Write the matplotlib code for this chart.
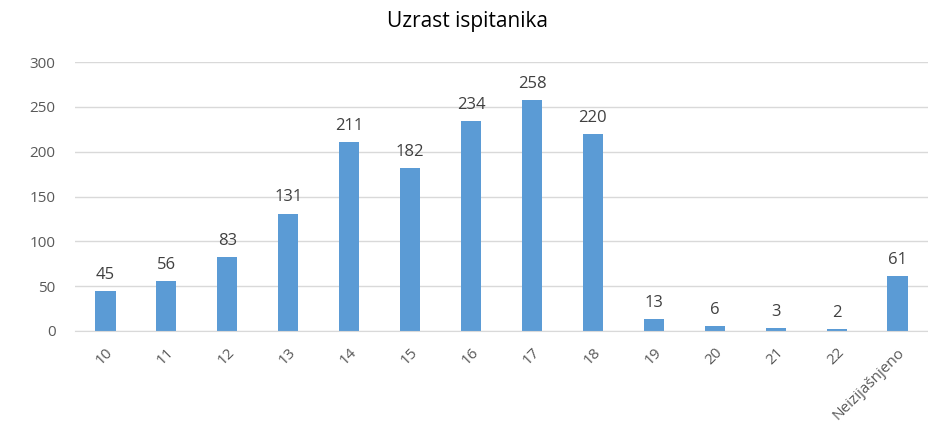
import numpy as np
import matplotlib.pyplot as plt

plt.rcParams['font.family'] = ['Open Sans', 'DejaVu Sans']

ages = ['10', '11', '12', '13', '14', '15', '16', '17', '18', '19', '20', '21', '22', 'Neizijašnjeno']
counts = [45, 56, 83, 131, 211, 182, 234, 258, 220, 13, 6, 3, 2, 61]
yticks = [0, 50, 100, 150, 200, 250, 300]

fig = plt.figure(figsize=(9.29, 4.24), dpi=100)
ax = fig.add_axes([75 / 929, 1 - 331 / 424, 853 / 929, 269 / 424])

x = np.arange(len(ages))
bars = ax.bar(x, counts, width=0.33, color='#5B9BD5', zorder=3)
for xi, v in zip(x, counts):
    ax.text(xi, v + 9, str(v), ha='center', va='bottom', fontsize=12, color='#404040')

ax.set_xlim(-0.5, len(ages) - 0.5)
ax.set_ylim(0, 300)
ax.set_yticks(yticks)
ax.set_xticks(x)
ax.set_xticklabels(ages, rotation=45, ha='right', rotation_mode='anchor')
ax.tick_params(axis='both', length=0, labelsize=11, colors='#595959')
ax.tick_params(axis='x', pad=10)
ax.tick_params(axis='y', pad=14)
ax.grid(axis='y', color='#D9D9D9', linewidth=1, zorder=0)
for s in ['top', 'right', 'left']:
    ax.spines[s].set_visible(False)
ax.spines['bottom'].set_color('#D9D9D9')
ax.spines['bottom'].set_zorder(4)

fig.text(468 / 929, 1 - 22 / 424, 'Uzrast ispitanika', ha='center', va='center', fontsize=15, color='#000000')

fig.savefig('out.png', dpi=100)
